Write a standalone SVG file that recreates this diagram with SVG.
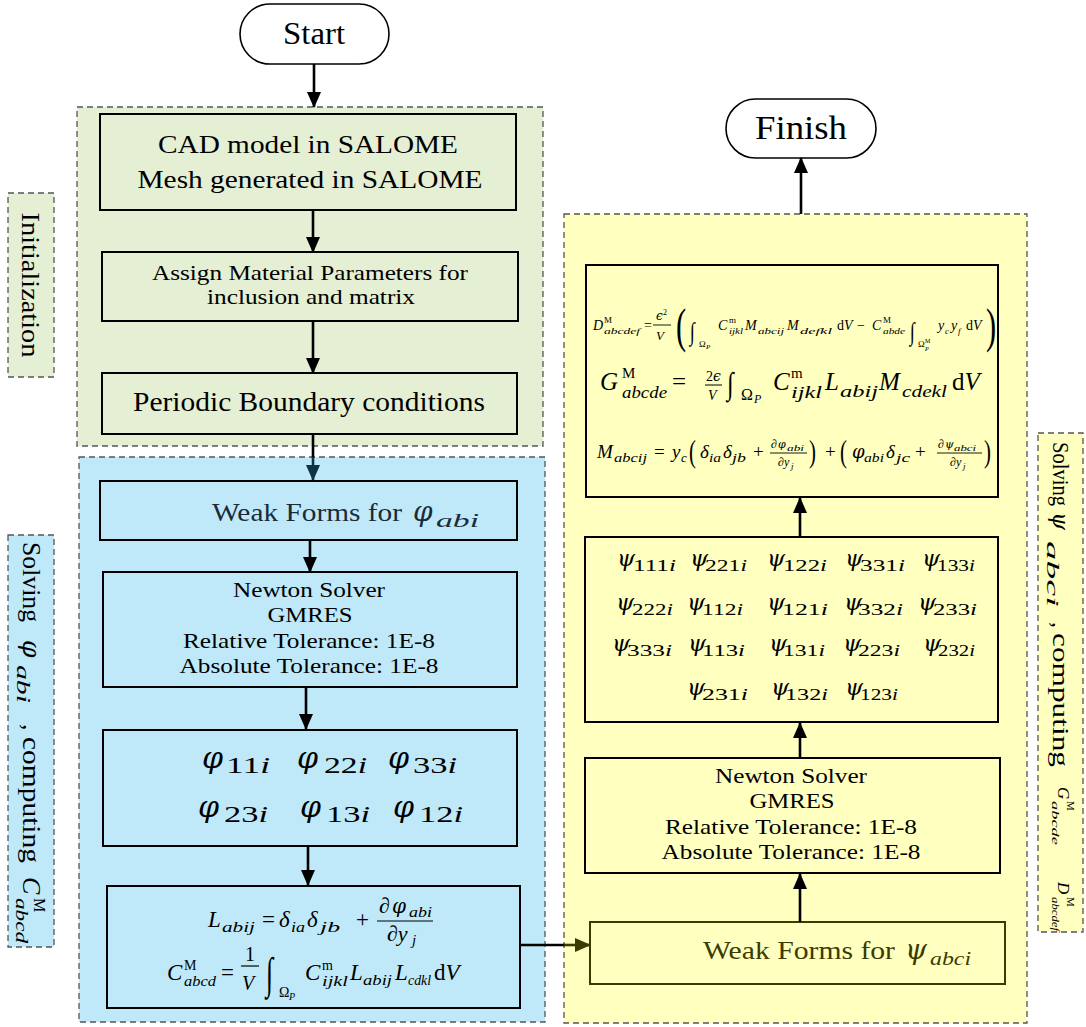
<svg xmlns="http://www.w3.org/2000/svg" width="1086" height="1027" viewBox="0 0 1086 1027">
<defs>
<style>
.t{font-family:"Liberation Serif","Times New Roman",serif;fill:#000}
.i{font-style:italic}
.gk{font-family:"DejaVu Serif",serif;font-style:italic}
.box{stroke:#000;stroke-width:2}
.rg{fill:#e4efd3;stroke:#555;stroke-width:1.3;stroke-dasharray:6 4}
.rb{fill:#bfe9f9;stroke:#555;stroke-width:1.3;stroke-dasharray:6 4}
.ry{fill:#ffffc0;stroke:#555;stroke-width:1.3;stroke-dasharray:6 4}
.c{stroke:#000;stroke-width:2.6;fill:none}
.m{text-anchor:middle}
</style>
<marker id="ah" markerUnits="userSpaceOnUse" markerWidth="16" markerHeight="14" refX="15" refY="7" orient="auto"><path d="M0,0 L16,7 L0,14 z" fill="#000"/></marker>
<marker id="ahb" markerUnits="userSpaceOnUse" markerWidth="16" markerHeight="14" refX="15" refY="7" orient="auto"><path d="M0,0 L16,7 L0,14 z" fill="#0d3344"/></marker>
<marker id="aho" markerUnits="userSpaceOnUse" markerWidth="16" markerHeight="14" refX="15" refY="7" orient="auto"><path d="M0,0 L16,7 L0,14 z" fill="#3b3b00"/></marker>
</defs>
<rect width="1086" height="1027" fill="#fff"/>

<!-- regions -->
<g id="region-init"><rect class="rg" x="77" y="107" width="466" height="339"/></g>
<g id="region-phi"><rect class="rb" x="79" y="457" width="466" height="565"/></g>
<g id="region-psi"><rect class="ry" x="564" y="214" width="463" height="809"/></g>

<!-- side labels -->
<g id="label-init">
<rect class="rg" x="8" y="193" width="46" height="184"/>
<text class="t m" transform="translate(31,285) rotate(90)" x="0" y="9" font-size="26" textLength="145" lengthAdjust="spacingAndGlyphs">Initialization</text>
</g>
<g id="label-phi">
<rect class="rb" x="8" y="535" width="46" height="412"/>
<g transform="translate(31,0) rotate(90)">
<text class="t" x="542" y="8" font-size="26" textLength="80" lengthAdjust="spacingAndGlyphs">Solving</text>
<text class="t gk" x="640" y="8" font-size="25">φ</text>
<text class="t i" x="665" y="14" font-size="18" textLength="38" lengthAdjust="spacingAndGlyphs">abi</text>
<text class="t" x="724" y="8" font-size="26">,</text>
<text class="t" x="737" y="8" font-size="26" textLength="126" lengthAdjust="spacingAndGlyphs">computing</text>
<text class="t i" x="877" y="8" font-size="26">C</text>
<text class="t" x="898" y="-3" font-size="16">M</text>
<text class="t i" x="898" y="15" font-size="17" textLength="45" lengthAdjust="spacingAndGlyphs">abcd</text>
</g>
</g>
<g id="label-psi">
<rect class="ry" x="1038" y="433" width="45" height="499"/>
<g transform="translate(1060,0) rotate(90)">
<text class="t" x="442" y="7" font-size="24" textLength="64" lengthAdjust="spacingAndGlyphs">Solving</text>
<text class="t gk" x="512" y="7" font-size="23">ψ</text>
<text class="t i" x="541" y="13" font-size="17" textLength="66" lengthAdjust="spacingAndGlyphs">abci</text>
<text class="t" x="622" y="7" font-size="24">,</text>
<text class="t" x="633" y="7" font-size="24" textLength="134" lengthAdjust="spacingAndGlyphs">computing</text>
<text class="t i" x="787" y="2" font-size="17">G</text>
<text class="t" x="801" y="-7" font-size="11">M</text>
<text class="t i" x="801" y="8" font-size="11" textLength="44" lengthAdjust="spacingAndGlyphs">abcde</text>
<text class="t i" x="882" y="2" font-size="17">D</text>
<text class="t" x="897" y="-7" font-size="11">M</text>
<text class="t i" x="897" y="8" font-size="11" textLength="34" lengthAdjust="spacingAndGlyphs">abcdef</text>
</g>
</g>

<!-- terminals -->
<g id="start"><rect x="240" y="4" width="149" height="60" rx="30" fill="#fff" stroke="#000" stroke-width="1.6"/><text class="t m" x="314" y="44" font-size="32" textLength="62" lengthAdjust="spacingAndGlyphs">Start</text></g>
<g id="finish"><rect x="726" y="99" width="150" height="59" rx="29.5" fill="#fff" stroke="#000" stroke-width="1.6"/><text class="t m" x="801" y="139" font-size="34" textLength="92" lengthAdjust="spacingAndGlyphs">Finish</text></g>

<!-- init nodes -->
<g id="cad"><rect class="box" x="100" y="114" width="416" height="96" fill="#e4efd3"/>
<text class="t m" x="308" y="153" font-size="26" textLength="300" lengthAdjust="spacingAndGlyphs">CAD model in SALOME</text>
<text class="t m" x="310" y="188" font-size="26" textLength="345" lengthAdjust="spacingAndGlyphs">Mesh generated in SALOME</text></g>
<g id="material"><rect class="box" x="102" y="252" width="416" height="69" fill="#e4efd3"/>
<text class="t m" x="310" y="280" font-size="22" textLength="316" lengthAdjust="spacingAndGlyphs">Assign Material Parameters for</text>
<text class="t m" x="311" y="304" font-size="22" textLength="208" lengthAdjust="spacingAndGlyphs">inclusion and matrix</text></g>
<g id="periodic"><rect class="box" x="102" y="373" width="415" height="61" fill="#e4efd3"/>
<text class="t m" x="309" y="411" font-size="27" textLength="352" lengthAdjust="spacingAndGlyphs">Periodic Boundary conditions</text></g>

<!-- phi nodes -->
<g id="weak-phi"><rect class="box" x="100" y="481" width="417" height="59" fill="#bfe9f9"/>
<text class="t" x="212" y="521" font-size="26" textLength="190" lengthAdjust="spacingAndGlyphs" style="fill:#1b2b3a">Weak Forms for</text>
<text class="t gk" x="413" y="521" font-size="28" style="fill:#1b2b3a">φ</text>
<text class="t i" x="436" y="527" font-size="19" textLength="43" lengthAdjust="spacingAndGlyphs" style="fill:#1b2b3a">abi</text></g>
<g id="newton-phi"><rect class="box" x="103" y="572" width="414" height="115" fill="#bfe9f9"/>
<text class="t m" x="309" y="597" font-size="21" textLength="152" lengthAdjust="spacingAndGlyphs">Newton Solver</text>
<text class="t m" x="310" y="622" font-size="21" textLength="85" lengthAdjust="spacingAndGlyphs">GMRES</text>
<text class="t m" x="309" y="648" font-size="21" textLength="252" lengthAdjust="spacingAndGlyphs">Relative Tolerance: 1E-8</text>
<text class="t m" x="309" y="673" font-size="21" textLength="259" lengthAdjust="spacingAndGlyphs">Absolute Tolerance: 1E-8</text></g>
<g id="phi-list"><rect class="box" x="103" y="730" width="414" height="116" fill="#bfe9f9"/>
<g font-size="30">
<text class="t gk" x="202" y="768">φ</text><text class="t gk" x="297" y="768">φ</text><text class="t gk" x="388" y="768">φ</text>
<text class="t gk" x="198" y="817">φ</text><text class="t gk" x="300" y="817">φ</text><text class="t gk" x="393" y="817">φ</text>
</g>
<g font-size="23">
<text class="t" x="226" y="773" textLength="44" lengthAdjust="spacingAndGlyphs">11<tspan class="i">i</tspan></text>
<text class="t" x="324" y="773" textLength="43" lengthAdjust="spacingAndGlyphs">22<tspan class="i">i</tspan></text>
<text class="t" x="413" y="773" textLength="44" lengthAdjust="spacingAndGlyphs">33<tspan class="i">i</tspan></text>
<text class="t" x="224" y="822" textLength="44" lengthAdjust="spacingAndGlyphs">23<tspan class="i">i</tspan></text>
<text class="t" x="326" y="822" textLength="44" lengthAdjust="spacingAndGlyphs">13<tspan class="i">i</tspan></text>
<text class="t" x="419" y="822" textLength="44" lengthAdjust="spacingAndGlyphs">12<tspan class="i">i</tspan></text>
</g></g>
<g id="c-formula"><rect class="box" x="107" y="886" width="413" height="122" fill="#bfe9f9"/>
<text class="t i" x="208" y="927" font-size="23">L</text>
<text class="t i" x="222" y="932" font-size="15" textLength="33" lengthAdjust="spacingAndGlyphs">abij</text>
<text class="t" x="262" y="927" font-size="23">=</text>
<text class="t i" x="279" y="927" font-size="23">δ</text>
<text class="t i" x="291" y="932" font-size="15" textLength="14" lengthAdjust="spacingAndGlyphs">ia</text>
<text class="t i" x="307" y="927" font-size="23">δ</text>
<text class="t i" x="320" y="932" font-size="15" textLength="20" lengthAdjust="spacingAndGlyphs">jb</text>
<text class="t" x="356" y="927" font-size="23">+</text>
<text class="t i" x="379" y="913" font-size="22">∂</text>
<text class="t gk" x="392" y="913" font-size="20">φ</text>
<text class="t i" x="409" y="917" font-size="15" textLength="23" lengthAdjust="spacingAndGlyphs">abi</text>
<line x1="377" y1="921" x2="433" y2="921" stroke="#000" stroke-width="1.2"/>
<text class="t i" x="387" y="941" font-size="22">∂y</text>
<text class="t i" x="412" y="945" font-size="15">j</text>
<text class="t i" x="167" y="980" font-size="23">C</text>
<text class="t" x="184" y="970" font-size="14">M</text>
<text class="t i" x="184" y="986" font-size="14" textLength="32" lengthAdjust="spacingAndGlyphs">abcd</text>
<text class="t" x="221" y="980" font-size="23">=</text>
<text class="t" x="245" y="961" font-size="20">1</text>
<line x1="241" y1="966" x2="259" y2="966" stroke="#000" stroke-width="1.2"/>
<text class="t i" x="242" y="990" font-size="20">V</text>
<text class="t" transform="translate(266,988) scale(1,1.7)" font-size="26">∫</text>
<text class="t" x="279" y="997" font-size="14">Ω</text>
<text class="t i" x="289" y="1000" font-size="10">P</text>
<text class="t i" x="305" y="980" font-size="23">C</text>
<text class="t" x="322" y="970" font-size="14">m</text>
<text class="t i" x="322" y="986" font-size="14" textLength="26" lengthAdjust="spacingAndGlyphs">ijkl</text>
<text class="t i" x="350" y="980" font-size="23">L</text>
<text class="t i" x="363" y="985" font-size="14" textLength="29" lengthAdjust="spacingAndGlyphs">abij</text>
<text class="t i" x="395" y="980" font-size="23">L</text>
<text class="t i" x="408" y="985" font-size="14" textLength="23" lengthAdjust="spacingAndGlyphs">cdkl</text>
<text class="t" x="434" y="980" font-size="23">d<tspan class="i">V</tspan></text></g>

<!-- psi nodes -->
<g id="weak-psi"><rect x="590" y="922" width="415" height="62" fill="#ffffc0" stroke="#3b3b00" stroke-width="2"/>
<text class="t" x="703" y="959" font-size="26" textLength="192" lengthAdjust="spacingAndGlyphs" style="fill:#3b3b00">Weak Forms for</text>
<text class="t gk" x="905" y="959" font-size="28" style="fill:#3b3b00">ψ</text>
<text class="t i" x="930" y="965" font-size="19" textLength="41" lengthAdjust="spacingAndGlyphs" style="fill:#3b3b00">abci</text></g>
<g id="newton-psi"><rect class="box" x="585" y="758" width="415" height="115" fill="#ffffc0"/>
<text class="t m" x="791" y="783" font-size="21" textLength="152" lengthAdjust="spacingAndGlyphs">Newton Solver</text>
<text class="t m" x="792" y="808" font-size="21" textLength="85" lengthAdjust="spacingAndGlyphs">GMRES</text>
<text class="t m" x="791" y="834" font-size="21" textLength="252" lengthAdjust="spacingAndGlyphs">Relative Tolerance: 1E-8</text>
<text class="t m" x="791" y="859" font-size="21" textLength="259" lengthAdjust="spacingAndGlyphs">Absolute Tolerance: 1E-8</text></g>
<g id="psi-list"><rect class="box" x="585" y="537" width="413" height="185" fill="#ffffc0"/>
<g font-size="23">
<text class="t gk" x="617" y="566">ψ</text><text class="t gk" x="690" y="566">ψ</text><text class="t gk" x="767" y="566">ψ</text><text class="t gk" x="845" y="566">ψ</text><text class="t gk" x="922" y="566">ψ</text>
<text class="t gk" x="616" y="610">ψ</text><text class="t gk" x="687" y="610">ψ</text><text class="t gk" x="767" y="610">ψ</text><text class="t gk" x="844" y="610">ψ</text><text class="t gk" x="918" y="610">ψ</text>
<text class="t gk" x="612" y="651">ψ</text><text class="t gk" x="688" y="651">ψ</text><text class="t gk" x="769" y="651">ψ</text><text class="t gk" x="843" y="651">ψ</text><text class="t gk" x="923" y="651">ψ</text>
<text class="t gk" x="687" y="695">ψ</text><text class="t gk" x="771" y="695">ψ</text><text class="t gk" x="845" y="695">ψ</text>
</g>
<g font-size="17">
<text class="t" x="633" y="571" textLength="43" lengthAdjust="spacingAndGlyphs">111<tspan class="i">i</tspan></text>
<text class="t" x="705" y="571" textLength="42" lengthAdjust="spacingAndGlyphs">221<tspan class="i">i</tspan></text>
<text class="t" x="783" y="571" textLength="44" lengthAdjust="spacingAndGlyphs">122<tspan class="i">i</tspan></text>
<text class="t" x="860" y="571" textLength="45" lengthAdjust="spacingAndGlyphs">331<tspan class="i">i</tspan></text>
<text class="t" x="937" y="571" textLength="38" lengthAdjust="spacingAndGlyphs">133<tspan class="i">i</tspan></text>
<text class="t" x="632" y="615" textLength="41" lengthAdjust="spacingAndGlyphs">222<tspan class="i">i</tspan></text>
<text class="t" x="702" y="615" textLength="41" lengthAdjust="spacingAndGlyphs">112<tspan class="i">i</tspan></text>
<text class="t" x="782" y="615" textLength="46" lengthAdjust="spacingAndGlyphs">121<tspan class="i">i</tspan></text>
<text class="t" x="858" y="615" textLength="45" lengthAdjust="spacingAndGlyphs">332<tspan class="i">i</tspan></text>
<text class="t" x="933" y="615" textLength="44" lengthAdjust="spacingAndGlyphs">233<tspan class="i">i</tspan></text>
<text class="t" x="627" y="656" textLength="45" lengthAdjust="spacingAndGlyphs">333<tspan class="i">i</tspan></text>
<text class="t" x="702" y="656" textLength="43" lengthAdjust="spacingAndGlyphs">113<tspan class="i">i</tspan></text>
<text class="t" x="783" y="656" textLength="42" lengthAdjust="spacingAndGlyphs">131<tspan class="i">i</tspan></text>
<text class="t" x="858" y="656" textLength="42" lengthAdjust="spacingAndGlyphs">223<tspan class="i">i</tspan></text>
<text class="t" x="938" y="656" textLength="37" lengthAdjust="spacingAndGlyphs">232<tspan class="i">i</tspan></text>
<text class="t" x="702" y="700" textLength="46" lengthAdjust="spacingAndGlyphs">231<tspan class="i">i</tspan></text>
<text class="t" x="785" y="700" textLength="43" lengthAdjust="spacingAndGlyphs">132<tspan class="i">i</tspan></text>
<text class="t" x="860" y="700" textLength="38" lengthAdjust="spacingAndGlyphs">123<tspan class="i">i</tspan></text>
</g></g>
<g id="gd-formula"><rect class="box" x="586" y="265" width="412" height="232" fill="#ffffc0"/>
<!-- D -->
<text class="t i" x="593" y="330" font-size="14">D</text>
<text class="t" x="604" y="323" font-size="9">M</text>
<text class="t i" x="604" y="334" font-size="9" textLength="36" lengthAdjust="spacingAndGlyphs">abcdef</text>
<text class="t" x="644" y="330" font-size="14">=</text>
<text class="t gk" x="656" y="320" font-size="12">ϵ</text><text class="t" x="663" y="315" font-size="8">2</text>
<line x1="653" y1="325" x2="671" y2="325" stroke="#000" stroke-width="0.9"/>
<text class="t i" x="656" y="340" font-size="13">V</text>
<text class="t" transform="translate(676,342) scale(0.8,1.25)" font-size="38">(</text>
<text class="t" transform="translate(690,340) scale(1,1.4)" font-size="18">∫</text>
<text class="t" x="699" y="347" font-size="9">Ω</text><text class="t i" x="706" y="349" font-size="7">P</text>
<text class="t i" x="718" y="330" font-size="14">C</text>
<text class="t" x="729" y="323" font-size="9">m</text>
<text class="t i" x="729" y="334" font-size="9" textLength="14" lengthAdjust="spacingAndGlyphs">ijkl</text>
<text class="t i" x="745" y="330" font-size="14">M</text>
<text class="t i" x="758" y="334" font-size="9" textLength="26" lengthAdjust="spacingAndGlyphs">abcij</text>
<text class="t i" x="787" y="330" font-size="14">M</text>
<text class="t i" x="800" y="334" font-size="9" textLength="32" lengthAdjust="spacingAndGlyphs">defkl</text>
<text class="t" x="837" y="330" font-size="14">d<tspan class="i">V</tspan></text>
<text class="t" x="857" y="330" font-size="14">−</text>
<text class="t i" x="872" y="330" font-size="14">C</text>
<text class="t" x="883" y="323" font-size="9">M</text>
<text class="t i" x="883" y="334" font-size="9" textLength="22" lengthAdjust="spacingAndGlyphs">abde</text>
<text class="t" transform="translate(910,340) scale(1,1.4)" font-size="18">∫</text>
<text class="t" x="918" y="347" font-size="9">Ω</text><text class="t" x="925" y="343" font-size="6">M</text><text class="t i" x="925" y="351" font-size="6">P</text>
<text class="t i" x="938" y="330" font-size="14">y</text><text class="t i" x="945" y="334" font-size="9">c</text>
<text class="t i" x="951" y="330" font-size="14">y</text><text class="t i" x="958" y="334" font-size="9">f</text>
<text class="t" x="966" y="330" font-size="14">d<tspan class="i">V</tspan></text>
<text class="t" transform="translate(986,342) scale(0.8,1.25)" font-size="38">)</text>
<!-- G -->
<text class="t i" x="600" y="390" font-size="25">G</text>
<text class="t" x="622" y="378" font-size="15">M</text>
<text class="t i" x="622" y="398" font-size="16" textLength="45" lengthAdjust="spacingAndGlyphs">abcde</text>
<text class="t" x="672" y="390" font-size="25">=</text>
<text class="t" x="706" y="381" font-size="14">2<tspan class="gk">ϵ</tspan></text>
<line x1="705" y1="385" x2="722" y2="385" stroke="#000" stroke-width="1"/>
<text class="t i" x="708" y="400" font-size="14">V</text>
<text class="t" transform="translate(727,394) scale(1,1.3)" font-size="24">∫</text>
<text class="t" x="741" y="400" font-size="16">Ω</text><text class="t i" x="754" y="403" font-size="12">P</text>
<text class="t i" x="773" y="390" font-size="25">C</text>
<text class="t" x="791" y="378" font-size="15">m</text>
<text class="t i" x="791" y="398" font-size="16" textLength="31" lengthAdjust="spacingAndGlyphs">ijkl</text>
<text class="t i" x="825" y="390" font-size="25">L</text>
<text class="t i" x="840" y="397" font-size="16" textLength="38" lengthAdjust="spacingAndGlyphs">abij</text>
<text class="t i" x="879" y="390" font-size="25">M</text>
<text class="t i" x="902" y="397" font-size="16" textLength="45" lengthAdjust="spacingAndGlyphs">cdekl</text>
<text class="t" x="952" y="390" font-size="25">d<tspan class="i">V</tspan></text>
<!-- M -->
<text class="t i" x="597" y="458" font-size="19">M</text>
<text class="t i" x="614" y="462" font-size="13" textLength="33" lengthAdjust="spacingAndGlyphs">abcij</text>
<text class="t" x="654" y="458" font-size="19">=</text>
<text class="t i" x="672" y="458" font-size="19">y</text><text class="t i" x="681" y="462" font-size="13">c</text>
<text class="t" transform="translate(689,462) scale(0.8,1.2)" font-size="26">(</text>
<text class="t i" x="700" y="458" font-size="19">δ</text>
<text class="t i" x="709" y="462" font-size="13" textLength="12" lengthAdjust="spacingAndGlyphs">ia</text>
<text class="t i" x="723" y="458" font-size="19">δ</text>
<text class="t i" x="732" y="462" font-size="13" textLength="14" lengthAdjust="spacingAndGlyphs">jb</text>
<text class="t" x="753" y="458" font-size="19">+</text>
<text class="t i" x="771" y="448" font-size="12">∂</text><text class="t gk" x="778" y="448" font-size="11">φ</text>
<text class="t i" x="787" y="451" font-size="9" textLength="17" lengthAdjust="spacingAndGlyphs">abi</text>
<line x1="770" y1="453" x2="807" y2="453" stroke="#000" stroke-width="0.9"/>
<text class="t i" x="778" y="466" font-size="12">∂y</text><text class="t i" x="791" y="469" font-size="9">j</text>
<text class="t" transform="translate(809,462) scale(0.8,1.2)" font-size="26">)</text>
<text class="t" x="825" y="458" font-size="19">+</text>
<text class="t" transform="translate(840,462) scale(0.8,1.2)" font-size="26">(</text>
<text class="t gk" x="852" y="458" font-size="18">φ</text>
<text class="t i" x="864" y="462" font-size="13" textLength="20" lengthAdjust="spacingAndGlyphs">abi</text>
<text class="t i" x="886" y="458" font-size="19">δ</text>
<text class="t i" x="896" y="462" font-size="13" textLength="14" lengthAdjust="spacingAndGlyphs">jc</text>
<text class="t" x="915" y="458" font-size="19">+</text>
<text class="t i" x="938" y="448" font-size="12">∂</text><text class="t gk" x="945" y="448" font-size="11">ψ</text>
<text class="t i" x="954" y="451" font-size="9" textLength="22" lengthAdjust="spacingAndGlyphs">abci</text>
<line x1="937" y1="453" x2="982" y2="453" stroke="#000" stroke-width="0.9"/>
<text class="t i" x="950" y="466" font-size="12">∂y</text><text class="t i" x="963" y="469" font-size="9">j</text>
<text class="t" transform="translate(984,462) scale(0.8,1.2)" font-size="26">)</text>
</g>

<!-- connectors -->
<g id="connectors">
<line class="c" x1="314" y1="64" x2="314" y2="107" marker-end="url(#ah)"/>
<line class="c" x1="313" y1="210" x2="313" y2="252" marker-end="url(#ah)"/>
<line class="c" x1="313" y1="321" x2="313" y2="373" marker-end="url(#ah)"/>
<line class="c" x1="313" y1="434" x2="313" y2="458"/>
<line class="c" x1="313" y1="457" x2="313" y2="480" style="stroke:#0d3344" marker-end="url(#ahb)"/>
<line class="c" x1="310" y1="540" x2="310" y2="572" marker-end="url(#ah)"/>
<line class="c" x1="306" y1="687" x2="306" y2="729" marker-end="url(#ah)"/>
<line class="c" x1="308" y1="846" x2="308" y2="885" marker-end="url(#ah)"/>
<line class="c" x1="520" y1="945" x2="565" y2="945"/>
<line class="c" x1="564" y1="945" x2="590" y2="945" style="stroke:#3b3b00" marker-end="url(#aho)"/>
<line class="c" x1="800" y1="922" x2="800" y2="874" marker-end="url(#ah)"/>
<line class="c" x1="800" y1="758" x2="800" y2="723" marker-end="url(#ah)"/>
<line class="c" x1="800" y1="537" x2="800" y2="498" marker-end="url(#ah)"/>
<line class="c" x1="801" y1="214" x2="801" y2="158" marker-end="url(#ah)"/>
</g>
</svg>
